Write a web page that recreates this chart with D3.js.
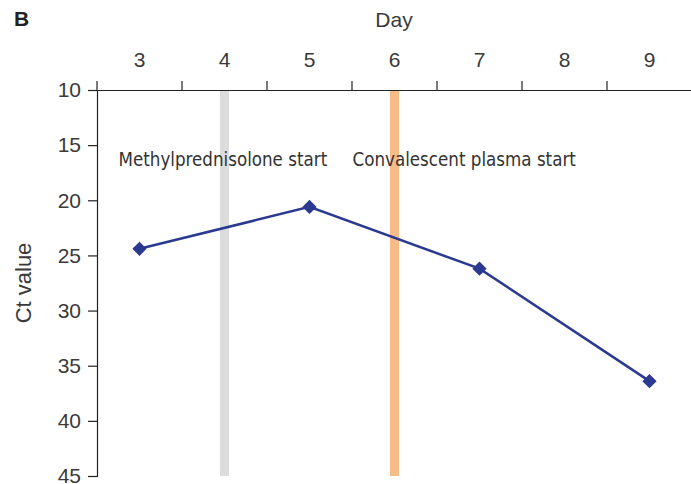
<!DOCTYPE html>
<html><head><meta charset="utf-8">
<script src="https://cdn.jsdelivr.net/npm/d3@7"></script>
<style>body{margin:0;background:#fff}svg{display:block}</style>
</head><body>
<svg id="c" width="691" height="484"></svg>
<script>
const days = ["3","4","5","6","7","8","9"];
const ctDays = ["3","5","7","9"];
const ctValues = [24.4, 20.6, 26.2, 36.4];
const yTicks = [10,15,20,25,30,35,40,45];
const events = [
  {day:"4", label:"Methylprednisolone start", color:"#dcdcdc"},
  {day:"6", label:"Convalescent plasma start", color:"#f7bb88"}
];

(function(){
const svg = d3.select("#c");
const mLeft = 97, mRight = 692, mTop = 90, mBottom = 476;
const x = d3.scaleBand().domain(days).range([mLeft, mRight]);
const y = d3.scaleLinear().domain([10,45]).range([mTop, mBottom]);
const axisFont = "Liberation Sans, Arial, sans-serif";
const txt = "#3a3a3a";

// event bars
svg.selectAll("rect.ev").data(events).join("rect").attr("class","ev")
  .attr("x", d => x(d.day) + x.bandwidth()/2 - 4.5)
  .attr("y", mTop).attr("width", 9).attr("height", mBottom - mTop)
  .attr("fill", d => d.color);

// top axis
const gx = svg.append("g").attr("transform", `translate(0,${mTop})`)
  .call(d3.axisTop(x).tickSize(0).tickPadding(23));
gx.select(".domain").attr("stroke", "#222").attr("stroke-width", 1.2);
gx.selectAll("text").attr("font-family", axisFont).attr("font-size", 21).attr("fill", txt);
const bounds = days.map(d => x(d)).concat([mRight]);
svg.append("g").selectAll("line").data(bounds).join("line")
  .attr("x1", d => d).attr("x2", d => d).attr("y1", mTop - 9).attr("y2", mTop)
  .attr("stroke", "#222").attr("stroke-width", 1.2);

// left axis
const gy = svg.append("g").attr("transform", `translate(${mLeft},0)`)
  .call(d3.axisLeft(y).tickValues(yTicks).tickSize(9).tickPadding(7));
gy.select(".domain").attr("stroke", "#222").attr("stroke-width", 1.2);
gy.selectAll(".tick line").attr("stroke", "#222").attr("stroke-width", 1.2);
gy.selectAll("text").attr("font-family", axisFont).attr("font-size", 21).attr("fill", txt);

// titles
svg.append("text").attr("x", 14).attr("y", 26).text("B")
  .attr("font-family", axisFont).attr("font-weight", "bold").attr("font-size", 21).attr("fill", "#222");
svg.append("text").attr("x", 394).attr("y", 27).attr("text-anchor", "middle").text("Day")
  .attr("font-family", axisFont).attr("font-size", 21).attr("fill", txt);
svg.append("text").attr("transform", `translate(31,283) rotate(-90)`).attr("text-anchor", "middle")
  .text("Ct value").attr("font-family", axisFont).attr("font-size", 22).attr("fill", txt);

// event labels
svg.selectAll("text.evl").data(events).join("text").attr("class","evl")
  .attr("x", d => x(d.day) + x.bandwidth()/2 - (d.day === "4" ? 106 : 42))
  .attr("y", 166)
  .text(d => d.label)
  .attr("font-family", "DejaVu Sans Condensed, DejaVu Sans, sans-serif").attr("font-size", 18.6)
  .attr("fill", "#333");

// line
const pts = ctDays.map((d,i) => [x(d) + x.bandwidth()/2, y(ctValues[i])]);
svg.append("path").attr("d", d3.line()(pts)).attr("fill", "none")
  .attr("stroke", "#2b3990").attr("stroke-width", 2.5);
svg.selectAll("path.pt").data(pts).join("path").attr("class","pt")
  .attr("transform", d => `translate(${d[0]},${d[1]})`)
  .attr("d", d3.symbol(d3.symbolDiamond2, 130)())
  .attr("fill", "#2b3990");
})();
</script>
</body></html>
